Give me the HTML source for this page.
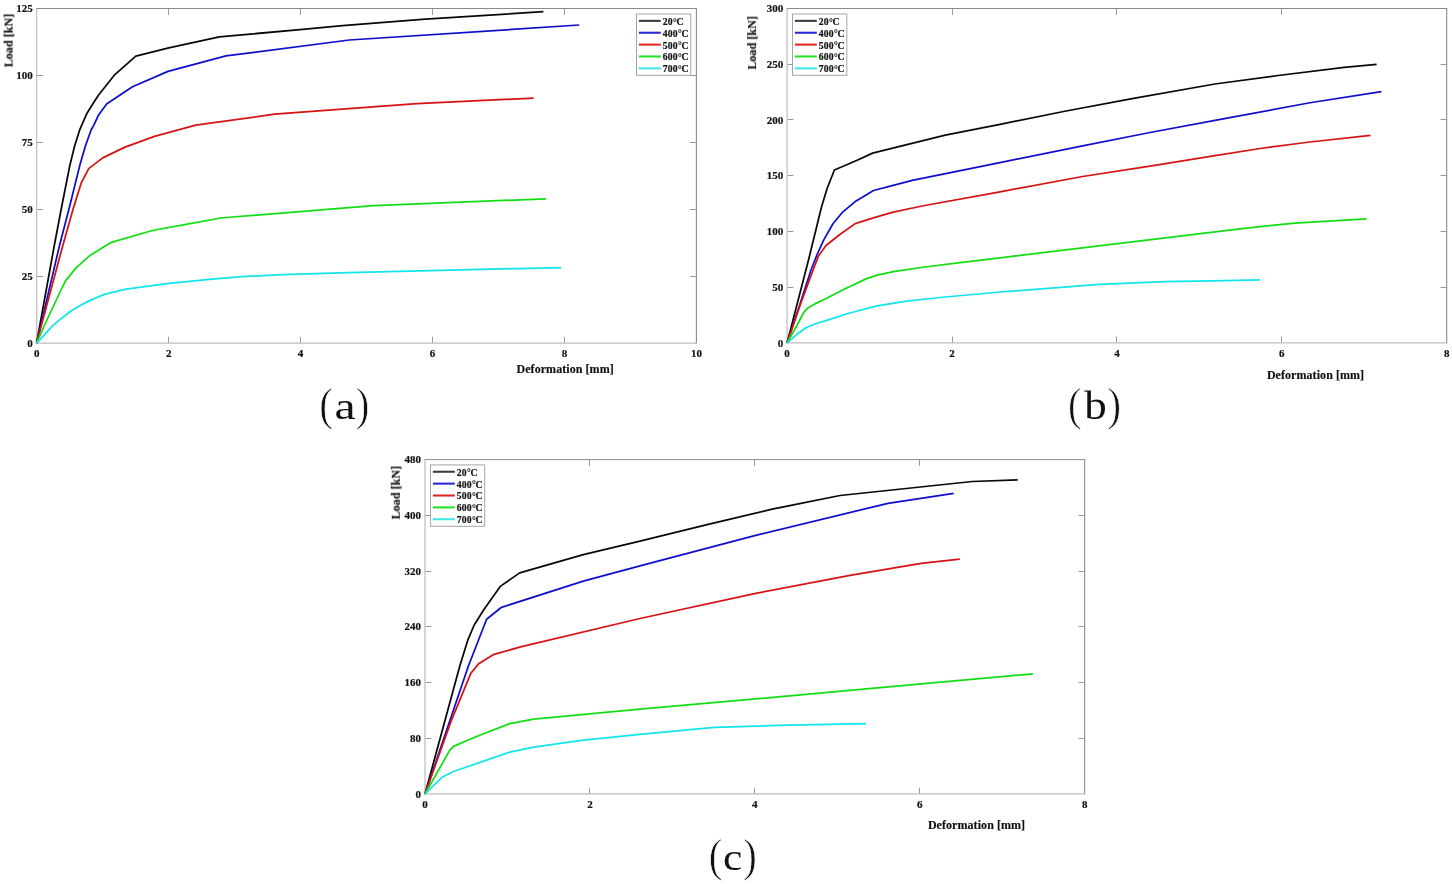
<!DOCTYPE html>
<html lang="en"><head><meta charset="utf-8"><title>Load-deformation curves</title>
<style>html,body{margin:0;padding:0;background:#fff}body{width:1452px;height:884px;overflow:hidden}svg{display:block}
text{filter:url(#gs);font-family:"Liberation Serif","DejaVu Serif",serif;fill:#111}
.t{font-weight:bold;font-size:11px;stroke:#111;stroke-width:.2px}
.l{font-weight:bold;font-size:12px;stroke:#111;stroke-width:.15px;letter-spacing:.06px}
.g{font-weight:bold;font-size:9.7px;stroke:#111;stroke-width:.2px;letter-spacing:.22px}
.cv{fill:none;stroke-width:1.75;stroke-linejoin:round;stroke-linecap:butt}
</style></head><body>
<svg width="1452" height="884" viewBox="0 0 1452 884">
<defs><filter id="gs" x="-5%" y="-5%" width="110%" height="110%" color-interpolation-filters="sRGB"><feColorMatrix type="saturate" values="0"/></filter></defs>
<rect width="1452" height="884" fill="#fff"/>
<g id="panel-a">
<text class="t" x="36.7" y="357" text-anchor="middle">0</text>
<text class="t" x="168.64" y="357" text-anchor="middle">2</text>
<text class="t" x="300.58" y="357" text-anchor="middle">4</text>
<text class="t" x="432.52" y="357" text-anchor="middle">6</text>
<text class="t" x="564.46" y="357" text-anchor="middle">8</text>
<text class="t" x="696.4" y="357" text-anchor="middle">10</text>
<text class="t" x="32.8" y="347" text-anchor="end">0</text>
<text class="t" x="32.8" y="280" text-anchor="end">25</text>
<text class="t" x="32.8" y="213" text-anchor="end">50</text>
<text class="t" x="32.8" y="146" text-anchor="end">75</text>
<text class="t" x="32.8" y="79" text-anchor="end">100</text>
<text class="t" x="32.8" y="12" text-anchor="end">125</text>
<path d="M168.5 343.05v-6.3M168.5 8.5v6.3M300.5 343.05v-6.3M300.5 8.5v6.3M432.5 343.05v-6.3M432.5 8.5v6.3M564.5 343.05v-6.3M564.5 8.5v6.3M36.7 276.5h6.3M696.4 276.5h-6.3M36.7 209.5h6.3M696.4 209.5h-6.3M36.7 142.5h6.3M696.4 142.5h-6.3M36.7 75.5h6.3M696.4 75.5h-6.3" stroke="#8e8e8e" stroke-width=".9" fill="none"/>
<line x1="36.2" y1="8.5" x2="696.9" y2="8.5" stroke="#8a8a8a" stroke-width="1"/>
<line x1="696.4" y1="8.5" x2="696.4" y2="343.55" stroke="#8a8a8a" stroke-width="1.1"/>
<line x1="36.7" y1="8.5" x2="36.7" y2="343.55" stroke="#bdbdbd" stroke-width="1.2"/>
<line x1="36.2" y1="343.05" x2="696.9" y2="343.05" stroke="#bdbdbd" stroke-width="1.3"/>
<polyline class="cv" stroke="#080808" points="36.6,343.1 54.2,246 62,205 69.7,166.1 74.6,146 79.6,130.2 87,113.2 95.3,100 98.6,95 114.3,75.2 135.8,56.2 168.8,47.9 219.3,36.8 300,29.7 342.6,25.6 425.3,19.1 543.4,11.7"/>
<polyline class="cv" stroke="#0e0ecd" points="36.6,343.1 59.4,246 70,205 79.6,166.1 85.4,146 91.2,129.8 93.6,125.6 98.6,114.9 106.9,103.7 132.5,86.8 168,71.4 225.9,55.9 349.3,40 579.2,25"/>
<polyline class="cv" stroke="#d61212" points="36.6,343.1 62.7,246 73.1,209.1 81.4,182.6 88.7,168.6 102.7,157.9 125,147.1 154.5,136.4 195.7,125.2 274.5,114.2 417,103.6 533.6,98.1"/>
<polyline class="cv" stroke="#12de12" points="36.6,343.1 44.1,326 61,290 65.5,280.9 76.3,267.6 90.3,255.2 110.5,242.7 152.3,230.5 188.7,223.8 220.7,218 373.6,205.6 546,198.8"/>
<polyline class="cv" stroke="#12e4ec" points="36.6,343.1 45,334.2 52.3,326.2 58.9,320.4 71.3,310.7 79.6,305.7 90,300.4 104.4,294.4 125.9,289.1 167.2,283.7 211.8,279.2 241.3,276.7 282.6,274.6 348.8,272.6 440,270.3 561.2,267.6"/>
<rect x="636.5" y="14" width="54.2" height="61.3" fill="#fff" stroke="#a6a6a6" stroke-width="1"/>
<line x1="638.9" y1="20.85" x2="660.8" y2="20.85" stroke="#3a3a3a" stroke-width="2.05"/>
<text class="g" x="662.7" y="24.75">20<tspan font-size="9.4" stroke-width=".12" dx=".2" dy=".75">°</tspan><tspan dx="-.55" dy="-.75">C</tspan></text>
<line x1="638.9" y1="32.73" x2="660.8" y2="32.73" stroke="#2626d6" stroke-width="2.05"/>
<text class="g" x="662.7" y="36.63">400<tspan font-size="9.4" stroke-width=".12" dx=".2" dy=".75">°</tspan><tspan dx="-.55" dy="-.75">C</tspan></text>
<line x1="638.9" y1="44.61" x2="660.8" y2="44.61" stroke="#e02424" stroke-width="2.05"/>
<text class="g" x="662.7" y="48.51">500<tspan font-size="9.4" stroke-width=".12" dx=".2" dy=".75">°</tspan><tspan dx="-.55" dy="-.75">C</tspan></text>
<line x1="638.9" y1="56.49" x2="660.8" y2="56.49" stroke="#22e022" stroke-width="2.05"/>
<text class="g" x="662.7" y="60.39">600<tspan font-size="9.4" stroke-width=".12" dx=".2" dy=".75">°</tspan><tspan dx="-.55" dy="-.75">C</tspan></text>
<line x1="638.9" y1="68.37" x2="660.8" y2="68.37" stroke="#3ee6ec" stroke-width="2.05"/>
<text class="g" x="662.7" y="72.27">700<tspan font-size="9.4" stroke-width=".12" dx=".2" dy=".75">°</tspan><tspan dx="-.55" dy="-.75">C</tspan></text>
<text class="l" x="516.5" y="372.8">Deformation [mm]</text>
<text class="l" transform="translate(12.6 67.3) rotate(-90)">Load [kN]</text>
<text class="cp" transform="translate(319.22 419.94) scale(0.903 1)" font-size="46.1" stroke="#fff" stroke-width="0.7">(</text>
<text class="cp" transform="translate(334.42 419.03) scale(1.246 1)" font-size="38.2">a</text>
<text class="cp" transform="translate(355.63 419.94) scale(0.887 1)" font-size="46.1" stroke="#fff" stroke-width="0.7">)</text>
</g>
<g id="panel-b">
<text class="t" x="787.1" y="357" text-anchor="middle">0</text>
<text class="t" x="952" y="357" text-anchor="middle">2</text>
<text class="t" x="1116.9" y="357" text-anchor="middle">4</text>
<text class="t" x="1281.8" y="357" text-anchor="middle">6</text>
<text class="t" x="1446.7" y="357" text-anchor="middle">8</text>
<text class="t" x="783.2" y="347" text-anchor="end">0</text>
<text class="t" x="783.2" y="291" text-anchor="end">50</text>
<text class="t" x="783.2" y="235" text-anchor="end">100</text>
<text class="t" x="783.2" y="179" text-anchor="end">150</text>
<text class="t" x="783.2" y="124" text-anchor="end">200</text>
<text class="t" x="783.2" y="68" text-anchor="end">250</text>
<text class="t" x="783.2" y="12" text-anchor="end">300</text>
<path d="M952.5 342.9v-6.3M952.5 8.5v6.3M1116.5 342.9v-6.3M1116.5 8.5v6.3M1281.5 342.9v-6.3M1281.5 8.5v6.3M787.1 287.5h6.3M1446.7 287.5h-6.3M787.1 231.5h6.3M1446.7 231.5h-6.3M787.1 175.5h6.3M1446.7 175.5h-6.3M787.1 119.5h6.3M1446.7 119.5h-6.3M787.1 64.5h6.3M1446.7 64.5h-6.3" stroke="#8e8e8e" stroke-width=".9" fill="none"/>
<line x1="786.6" y1="8.5" x2="1447.2" y2="8.5" stroke="#8a8a8a" stroke-width="1"/>
<line x1="1446.7" y1="8.5" x2="1446.7" y2="343.4" stroke="#8a8a8a" stroke-width="1.1"/>
<line x1="787.1" y1="8.5" x2="787.1" y2="343.4" stroke="#bdbdbd" stroke-width="1.2"/>
<line x1="786.6" y1="342.9" x2="1447.2" y2="342.9" stroke="#bdbdbd" stroke-width="1.3"/>
<polyline class="cv" stroke="#080808" points="787.1,342.9 808.5,260 821.5,207 827.1,188.5 834.4,170 857.7,160 872.6,153.1 945.3,135.2 1000,124.3 1066.1,111 1132.2,98.6 1214.9,84 1278.1,75.5 1344.2,67.3 1376.6,64.4"/>
<polyline class="cv" stroke="#0e0ecd" points="787.1,342.9 799.4,306 811,270 817.1,254.5 823.9,239.6 832.8,224 842.9,211.8 855.2,201.6 864,196.2 873.5,190.5 893.2,185.3 912.2,180.3 1000,162.6 1082.6,145.8 1150,132.5 1227.1,118.2 1310,102.75 1381.4,91.6"/>
<polyline class="cv" stroke="#d61212" points="787.1,342.9 799.8,306 813.1,270 818.5,255.9 826,245.5 840.2,234.2 855.2,223.6 874.2,217.7 893.2,212.2 922.1,206 1000,191.8 1082.6,176.5 1150,166.2 1212,156.2 1260.2,148.5 1310,142 1370.4,135.4"/>
<polyline class="cv" stroke="#12de12" points="787.1,342.9 797.2,325 801.6,316.5 804,312.1 808.2,307.7 814.8,303.9 823.1,300 844.1,289.2 866.1,278.9 877.1,275.2 894.8,271.4 921.2,267.5 960,262.6 1000,257.8 1240,228.8 1294.6,223.1 1366.5,218.9"/>
<polyline class="cv" stroke="#12e4ec" points="787.1,342.9 796.9,334.3 806,327.7 814.8,324 830,319.3 846.1,314 877,305.8 906.7,301.2 940,297.5 1000,292 1099.2,284.4 1165.3,281.6 1212,280.8 1259.9,279.9"/>
<rect x="792.5" y="14" width="54.3" height="61.3" fill="#fff" stroke="#a6a6a6" stroke-width="1"/>
<line x1="794.9" y1="20.85" x2="816.8" y2="20.85" stroke="#3a3a3a" stroke-width="2.05"/>
<text class="g" x="818.7" y="24.75">20<tspan font-size="9.4" stroke-width=".12" dx=".2" dy=".75">°</tspan><tspan dx="-.55" dy="-.75">C</tspan></text>
<line x1="794.9" y1="32.73" x2="816.8" y2="32.73" stroke="#2626d6" stroke-width="2.05"/>
<text class="g" x="818.7" y="36.63">400<tspan font-size="9.4" stroke-width=".12" dx=".2" dy=".75">°</tspan><tspan dx="-.55" dy="-.75">C</tspan></text>
<line x1="794.9" y1="44.61" x2="816.8" y2="44.61" stroke="#e02424" stroke-width="2.05"/>
<text class="g" x="818.7" y="48.51">500<tspan font-size="9.4" stroke-width=".12" dx=".2" dy=".75">°</tspan><tspan dx="-.55" dy="-.75">C</tspan></text>
<line x1="794.9" y1="56.49" x2="816.8" y2="56.49" stroke="#22e022" stroke-width="2.05"/>
<text class="g" x="818.7" y="60.39">600<tspan font-size="9.4" stroke-width=".12" dx=".2" dy=".75">°</tspan><tspan dx="-.55" dy="-.75">C</tspan></text>
<line x1="794.9" y1="68.37" x2="816.8" y2="68.37" stroke="#3ee6ec" stroke-width="2.05"/>
<text class="g" x="818.7" y="72.27">700<tspan font-size="9.4" stroke-width=".12" dx=".2" dy=".75">°</tspan><tspan dx="-.55" dy="-.75">C</tspan></text>
<text class="l" x="1266.9" y="379.1">Deformation [mm]</text>
<text class="l" transform="translate(756.1 69.6) rotate(-90)">Load [kN]</text>
<text class="cp" transform="translate(1068.07 420.01) scale(0.884 1)" font-size="45.77" stroke="#fff" stroke-width="0.7">(</text>
<text class="cp" transform="translate(1084.2 419) scale(1.116 1)" font-size="40.36">b</text>
<text class="cp" transform="translate(1107.21 420.01) scale(0.910 1)" font-size="45.77" stroke="#fff" stroke-width="0.7">)</text>
</g>
<g id="panel-c">
<text class="t" x="425" y="808" text-anchor="middle">0</text>
<text class="t" x="589.92" y="808" text-anchor="middle">2</text>
<text class="t" x="754.85" y="808" text-anchor="middle">4</text>
<text class="t" x="919.78" y="808" text-anchor="middle">6</text>
<text class="t" x="1084.7" y="808" text-anchor="middle">8</text>
<text class="t" x="421.1" y="798" text-anchor="end">0</text>
<text class="t" x="421.1" y="742" text-anchor="end">80</text>
<text class="t" x="421.1" y="686" text-anchor="end">160</text>
<text class="t" x="421.1" y="630" text-anchor="end">240</text>
<text class="t" x="421.1" y="575" text-anchor="end">320</text>
<text class="t" x="421.1" y="519" text-anchor="end">400</text>
<text class="t" x="421.1" y="463" text-anchor="end">480</text>
<path d="M589.5 793.9v-6.3M589.5 459.6v6.3M754.5 793.9v-6.3M754.5 459.6v6.3M919.5 793.9v-6.3M919.5 459.6v6.3M425 738.5h6.3M1084.7 738.5h-6.3M425 682.5h6.3M1084.7 682.5h-6.3M425 626.5h6.3M1084.7 626.5h-6.3M425 571.5h6.3M1084.7 571.5h-6.3M425 515.5h6.3M1084.7 515.5h-6.3" stroke="#8e8e8e" stroke-width=".9" fill="none"/>
<line x1="424.5" y1="459.6" x2="1085.2" y2="459.6" stroke="#8a8a8a" stroke-width="1"/>
<line x1="1084.7" y1="459.6" x2="1084.7" y2="794.4" stroke="#8a8a8a" stroke-width="1.1"/>
<line x1="425" y1="459.6" x2="425" y2="794.4" stroke="#bdbdbd" stroke-width="1.2"/>
<line x1="424.5" y1="793.9" x2="1085.2" y2="793.9" stroke="#bdbdbd" stroke-width="1.3"/>
<polyline class="cv" stroke="#080808" points="425,794 459.8,666 467.6,640.7 474.2,625 484.1,609.3 500.6,586.1 519.7,572.9 583.3,554.7 640,541.1 706.1,524.8 772.2,509.2 840,495.5 972.3,481.5 1017.7,479.8"/>
<polyline class="cv" stroke="#0e0ecd" points="425,794 468.4,666 486.6,619.2 501.5,607.3 583.3,581.2 640,565.9 755.7,535.3 888,503.3 953.7,493.3"/>
<polyline class="cv" stroke="#d61212" points="425,794 451.1,721.1 470.9,673.2 478.3,664.1 493.2,654.7 520.5,646.9 640,618.5 755.7,593.4 850,575.4 921.1,563.3 959.8,559.1"/>
<polyline class="cv" stroke="#12de12" points="425,794 449.4,750.9 453.5,746.4 475.9,736.8 509.7,723.6 533.7,719.1 640,709.2 880,687.7 1032.9,673.9"/>
<polyline class="cv" stroke="#12e4ec" points="425,794 442,777.3 453.5,771.5 509.7,752.2 533.7,747.2 583.3,740.1 640,734.4 714.4,727.4 788.8,725.2 866,723.7"/>
<rect x="430.5" y="464.9" width="54.2" height="61.4" fill="#fff" stroke="#a6a6a6" stroke-width="1"/>
<line x1="432.9" y1="471.75" x2="454.8" y2="471.75" stroke="#3a3a3a" stroke-width="2.05"/>
<text class="g" x="456.7" y="475.65">20<tspan font-size="9.4" stroke-width=".12" dx=".2" dy=".75">°</tspan><tspan dx="-.55" dy="-.75">C</tspan></text>
<line x1="432.9" y1="483.63" x2="454.8" y2="483.63" stroke="#2626d6" stroke-width="2.05"/>
<text class="g" x="456.7" y="487.53">400<tspan font-size="9.4" stroke-width=".12" dx=".2" dy=".75">°</tspan><tspan dx="-.55" dy="-.75">C</tspan></text>
<line x1="432.9" y1="495.51" x2="454.8" y2="495.51" stroke="#e02424" stroke-width="2.05"/>
<text class="g" x="456.7" y="499.41">500<tspan font-size="9.4" stroke-width=".12" dx=".2" dy=".75">°</tspan><tspan dx="-.55" dy="-.75">C</tspan></text>
<line x1="432.9" y1="507.39" x2="454.8" y2="507.39" stroke="#22e022" stroke-width="2.05"/>
<text class="g" x="456.7" y="511.29">600<tspan font-size="9.4" stroke-width=".12" dx=".2" dy=".75">°</tspan><tspan dx="-.55" dy="-.75">C</tspan></text>
<line x1="432.9" y1="519.27" x2="454.8" y2="519.27" stroke="#3ee6ec" stroke-width="2.05"/>
<text class="g" x="456.7" y="523.17">700<tspan font-size="9.4" stroke-width=".12" dx=".2" dy=".75">°</tspan><tspan dx="-.55" dy="-.75">C</tspan></text>
<text class="l" x="927.9" y="829.1">Deformation [mm]</text>
<text class="l" transform="translate(399.8 519.4) rotate(-90)">Load [kN]</text>
<text class="cp" transform="translate(708.86 870.86) scale(0.889 1)" font-size="45.99" stroke="#fff" stroke-width="0.7">(</text>
<text class="cp" transform="translate(722.94 870.22) scale(1.130 1)" font-size="38.46">c</text>
<text class="cp" transform="translate(743.01 870.86) scale(0.906 1)" font-size="45.99" stroke="#fff" stroke-width="0.7">)</text>
</g>
</svg></body></html>
